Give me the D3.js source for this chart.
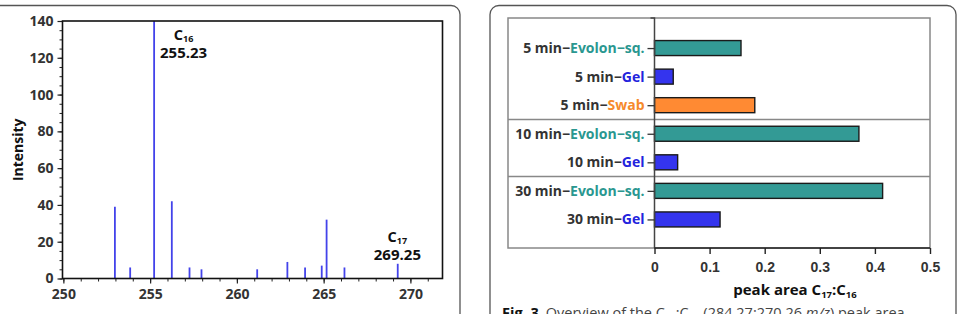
<!DOCTYPE html>
<html>
<head>
<meta charset="utf-8">
<script src="https://cdn.jsdelivr.net/npm/d3@7"></script>
<style>
  body { margin: 0; background: #fff; }
  svg { display: block; font-family: "Open Sans", "Noto Sans", sans-serif; }
</style>
</head>
<body>
<svg width="957" height="314"></svg>
<script>
// mass spectrum sticks (m/z, intensity)
let peakMz = [252.97, 253.85, 255.23, 256.25, 257.27, 257.96, 261.17, 262.91, 263.93, 264.89, 265.17, 266.2, 269.27];
let peakInt = [39, 6, 142, 42, 6, 5, 5, 9, 6, 7, 32, 6, 8];
let specXTicks = [250, 255, 260, 265, 270];
let specYTicks = [0, 20, 40, 60, 80, 100, 120, 140];
// annotated peaks
let annoMz = [255.23, 269.25];
let annoSub = ["16", "17"];

// peak ratio bars
let ratioCats = ["5 min-Evolon-sq.", "5 min-Gel", "5 min-Swab", "10 min-Evolon-sq.", "10 min-Gel", "30 min-Evolon-sq.", "30 min-Gel"];
let ratioTimes = ["5 min", "5 min", "5 min", "10 min", "10 min", "30 min", "30 min"];
let ratioMethods = ["Evolon\u2212sq.", "Gel", "Swab", "Evolon\u2212sq.", "Gel", "Evolon\u2212sq.", "Gel"];
let ratioVals = [0.157, 0.034, 0.182, 0.371, 0.042, 0.414, 0.119];
let ratioTicks = [0, 0.1, 0.2, 0.3, 0.4, 0.5];

let methodFill = { "Evolon\u2212sq.": "#339a95", "Gel": "#3434ee", "Swab": "#ff8a33" };
let methodText = { "Evolon\u2212sq.": "#2a9790", "Gel": "#2323dd", "Swab": "#f68a2c" };

let svg = d3.select("svg");
svg.append("rect").attr("width", 957).attr("height", 314).attr("fill", "#fff");

// cards
svg.append("rect").attr("x", -12).attr("y", 5.5).attr("width", 472).attr("height", 340)
  .attr("rx", 9).attr("fill", "none").attr("stroke", "#555").attr("stroke-width", 1.3);
svg.append("rect").attr("x", 490).attr("y", 5.5).attr("width", 466).attr("height", 340)
  .attr("rx", 9).attr("fill", "none").attr("stroke", "#555").attr("stroke-width", 1.3);

// ---------- left: spectrum ----------
let x = d3.scaleLinear().domain([249.95, 271.85]).range([62.5, 442.5]);
let y = d3.scaleLinear().domain([0, 140]).range([278.5, 21]);

let left = svg.append("g");
let plot = left.append("g");

// minor ticks
left.append("g").attr("transform", "translate(0," + y(0) + ")")
  .call(d3.axisBottom(x).tickValues(d3.range(250, 272, 1)).tickSize(3).tickFormat(""))
  .call(g => g.select(".domain").remove());
left.append("g").attr("transform", "translate(" + x.range()[0] + ",0)")
  .call(d3.axisLeft(y).tickValues(d3.range(0, 141, 5)).tickSize(3).tickFormat(""))
  .call(g => g.select(".domain").remove());

let xAx = left.append("g").attr("transform", "translate(0," + y(0) + ")")
  .call(d3.axisBottom(x).tickValues(specXTicks).tickSize(5).tickPadding(6));
let yAx = left.append("g").attr("transform", "translate(" + x.range()[0] + ",0)")
  .call(d3.axisLeft(y).tickValues(specYTicks).tickSize(5).tickPadding(4));
[xAx, yAx].forEach(a => {
  a.select(".domain").remove();
  a.selectAll("text").attr("font-size", 14).attr("font-weight", "bold").attr("fill", "#333")
    .attr("font-family", "'Open Sans', sans-serif");
  a.selectAll("line").attr("stroke", "#222").attr("stroke-width", 1.2);
});
left.selectAll("g.tick line").attr("stroke", "#222");

plot.selectAll("line.peak").data(peakMz).join("line")
  .attr("class", "peak")
  .attr("x1", d => x(d)).attr("x2", d => x(d))
  .attr("y1", y(0)).attr("y2", (d, i) => Math.max(y(peakInt[i]), y(140)))
  .attr("stroke", "#4343ea").attr("stroke-width", 1.8);

left.append("rect").attr("x", x.range()[0]).attr("y", y(140))
  .attr("width", x.range()[1] - x.range()[0]).attr("height", y(0) - y(140))
  .attr("fill", "none").attr("stroke", "#111").attr("stroke-width", 1.6);

left.append("text").attr("transform", "translate(23," + ((y(0) + y(140)) / 2) + ") rotate(-90)")
  .attr("text-anchor", "middle").attr("font-size", 14).attr("font-weight", "bold").attr("fill", "#111")
  .text("Intensity");

// peak annotations
let annoDx = [29.5, 0];
let annoTop = [40, 242];
annoMz.forEach((m, i) => {
  let cx = x(m) + annoDx[i];
  let t = left.append("text").attr("x", cx).attr("y", annoTop[i])
    .attr("text-anchor", "middle").attr("font-size", 14.5).attr("font-weight", "bold").attr("fill", "#111");
  t.append("tspan").text("C");
  t.append("tspan").attr("font-size", 9).attr("dy", 2).text(annoSub[i]);
  left.append("text").attr("x", cx).attr("y", annoTop[i] + 17.5)
    .attr("text-anchor", "middle").attr("font-size", 15).attr("font-weight", "bold").attr("fill", "#111")
    .text(d3.format(".2f")(m));
});

// ---------- right: ratio bars ----------
let xr = d3.scaleLinear().domain([0, 0.5]).range([654.5, 930]);
let yr = d3.scalePoint().domain(ratioCats).range([19.5, 248]).padding(1);
let frameL = 508, frameT = 18, frameB = 248;
let right = svg.append("g");

right.append("rect").attr("x", frameL).attr("y", frameT)
  .attr("width", xr.range()[1] - frameL).attr("height", frameB - frameT)
  .attr("fill", "none").attr("stroke", "#888").attr("stroke-width", 1.5);

// group dividers between time groups
let dividers = [[2, 3], [4, 5]];
right.selectAll("line.div").data(dividers).join("line")
  .attr("x1", frameL).attr("x2", xr.range()[1])
  .attr("y1", d => (yr(ratioCats[d[0]]) + yr(ratioCats[d[1]])) / 2)
  .attr("y2", d => (yr(ratioCats[d[0]]) + yr(ratioCats[d[1]])) / 2)
  .attr("stroke", "#888").attr("stroke-width", 1.5);

let barH = 15;
right.selectAll("rect.bar").data(ratioVals).join("rect")
  .attr("class", "bar")
  .attr("x", xr(0)).attr("y", (d, i) => yr(ratioCats[i]) - barH / 2)
  .attr("width", d => xr(d) - xr(0)).attr("height", barH)
  .attr("fill", (d, i) => methodFill[ratioMethods[i]])
  .attr("stroke", "#1a1a1a").attr("stroke-width", 1.4);

// y axis
let yrAx = right.append("g").attr("transform", "translate(" + xr(0) + ",0)")
  .call(d3.axisLeft(yr).tickSize(7).tickPadding(2).tickFormat(""));
yrAx.select(".domain").attr("d", "M-4," + frameT + "H0V" + frameB).attr("stroke", "#444").attr("stroke-width", 1.5);
yrAx.selectAll("line").attr("stroke", "#333").attr("stroke-width", 1.3);
ratioCats.forEach((c, i) => {
  let t = right.append("text").attr("x", xr(0) - 10).attr("y", yr(c)).attr("dy", "0.35em")
    .attr("text-anchor", "end").attr("font-size", 14).attr("font-weight", "bold");
  t.append("tspan").attr("fill", "#333").text(ratioTimes[i] + "\u2212");
  t.append("tspan").attr("fill", methodText[ratioMethods[i]]).text(ratioMethods[i]);
});

// x axis
let xrAx = right.append("g").attr("transform", "translate(0," + frameB + ")")
  .call(d3.axisBottom(xr).tickValues(ratioTicks).tickSize(6).tickPadding(8).tickFormat(d3.format("")));
xrAx.select(".domain").attr("d", "M" + xr(0) + ",0H" + xr(0.5)).attr("stroke", "#222").attr("stroke-width", 1.5);
xrAx.selectAll("line").attr("stroke", "#222").attr("stroke-width", 1.4);
xrAx.selectAll("text").attr("font-size", 14).attr("font-weight", "bold").attr("fill", "#333");

let xt = right.append("text").attr("x", 795).attr("y", 295)
  .attr("text-anchor", "middle").attr("font-size", 15).attr("font-weight", "bold").attr("fill", "#111");
xt.append("tspan").text("peak area C");
xt.append("tspan").attr("font-size", 9.5).attr("dy", 3).text("17");
xt.append("tspan").attr("dy", -3).text(":C");
xt.append("tspan").attr("font-size", 9.5).attr("dy", 3).text("16");

// caption (cut off at the bottom)
let cap = right.append("text").attr("x", 502).attr("y", 318).attr("font-size", 14.5).attr("fill", "#444");
cap.append("tspan").attr("font-weight", "bold").attr("fill", "#111").text("Fig. 3");
cap.append("tspan").attr("dx", 7).text("Overview of the C");
cap.append("tspan").attr("font-size", 9.5).attr("dy", 3).text("17");
cap.append("tspan").attr("dy", -3).text(":C");
cap.append("tspan").attr("font-size", 9.5).attr("dy", 3).text("16");
cap.append("tspan").attr("dy", -3).text(" (284.27:270.26 ");
cap.append("tspan").attr("font-style", "italic").text("m/z");
cap.append("tspan").text(") peak area");
</script>
</body>
</html>
